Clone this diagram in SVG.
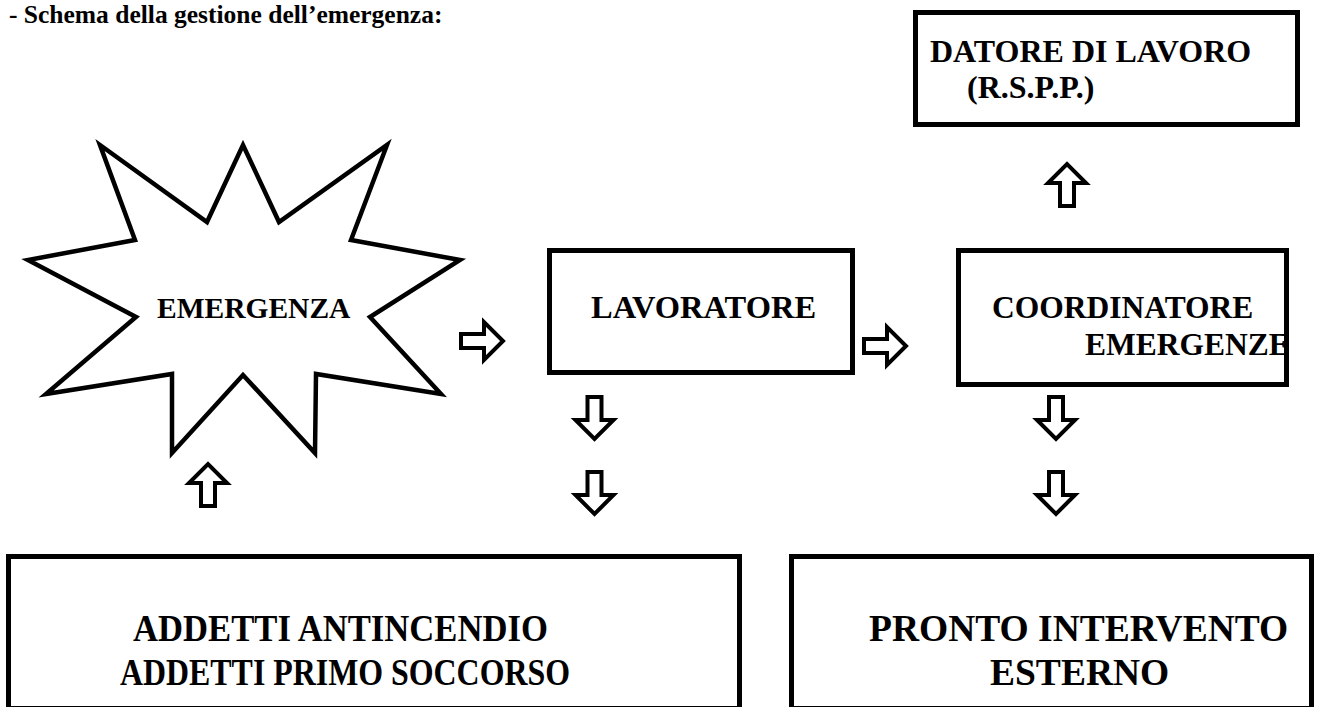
<svg xmlns="http://www.w3.org/2000/svg" xmlns:xlink="http://www.w3.org/1999/xlink" width="1320" height="707" viewBox="0 0 1320 707">
<style>
.box{fill:#fff;stroke:#000;stroke-width:5}
.star{fill:#fff;stroke:#000;stroke-width:4.5;stroke-linejoin:miter}
.arr{fill:#fff;stroke:#000;stroke-width:4;stroke-linejoin:miter}
text{font-family:"Liberation Serif","Times New Roman",serif;font-weight:bold;fill:#000}
.t{font-size:31.5px}
.big{font-size:37.5px}
</style>
<defs>
<path id="darr" class="arr" d="M -7 2 L 7 2 L 7 25 L 19 25 L 0 44 L -19 25 L -7 25 Z"/>
</defs>
<rect width="1320" height="707" fill="#fff"/>
<text id="title" x="9" y="23" style="font-size:25.5px">- Schema della gestione dell’emergenza:</text>
<g id="emergenza">
<polygon class="star" points="100,145 207,222 243,145 279,222 387,145 351,240 460,260 370,317 441,394 316,374 315,453 243,375 172,453 172,374 46,394 136,317 28,260 135,240"/>
<text x="157" y="318" style="font-size:29.5px">EMERGENZA</text>
</g>
<g id="lavoratore">
<rect class="box" x="549.5" y="250.5" width="303" height="122"/>
<text x="591" y="318" style="font-size:32.5px">LAVORATORE</text>
</g>
<g id="coordinatore">
<rect class="box" x="958.5" y="250.5" width="328" height="134"/>
<text class="t" x="992" y="318">COORDINATORE</text>
<text class="t" x="1085" y="355">EMERGENZE</text>
</g>
<g id="datore">
<rect class="box" x="915.5" y="12.5" width="382" height="112"/>
<text x="930" y="62" style="font-size:32px">DATORE DI LAVORO</text>
<text x="967" y="98" style="font-size:32px">(R.S.P.P.)</text>
</g>
<g id="addetti">
<rect class="box" x="8.5" y="556.5" width="731" height="152"/>
<text class="big" x="133" y="641" textLength="415" lengthAdjust="spacingAndGlyphs">ADDETTI ANTINCENDIO</text>
<text class="big" x="120" y="685" textLength="450" lengthAdjust="spacingAndGlyphs">ADDETTI PRIMO SOCCORSO</text>
</g>
<g id="pronto">
<rect class="box" x="791.5" y="556.5" width="520" height="152"/>
<text class="big" x="869" y="641">PRONTO INTERVENTO</text>
<text class="big" x="990" y="685">ESTERNO</text>
</g>
<g id="connectors">
<use xlink:href="#darr" transform="translate(459,341) rotate(-90)"/>
<use xlink:href="#darr" transform="translate(862,346) rotate(-90)"/>
<use xlink:href="#darr" transform="translate(594.5,395)"/>
<use xlink:href="#darr" transform="translate(594.5,470)"/>
<use xlink:href="#darr" transform="translate(1056,395)"/>
<use xlink:href="#darr" transform="translate(1056,470)"/>
<use xlink:href="#darr" transform="translate(1067,208) rotate(180)"/>
<use xlink:href="#darr" transform="translate(208,508) rotate(180)"/>
</g>
</svg>
